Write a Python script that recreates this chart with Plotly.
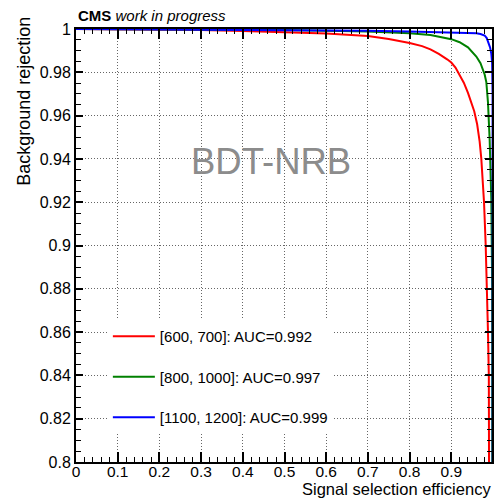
import plotly.graph_objects as go

# ROC curves: signal selection efficiency vs background rejection
sig_eff_600_700 = [0.0, 0.1, 0.2, 0.3, 0.4, 0.5, 0.6, 0.7, 0.75, 0.8, 0.83, 0.85, 0.87,
                   0.89, 0.90, 0.91, 0.92, 0.93, 0.94, 0.95, 0.955, 0.962, 0.968, 0.972,
                   0.9755, 0.9785, 0.9825, 0.9857, 0.988, 0.990, 0.992, 0.9936, 0.996,
                   0.998, 1.0]
bkg_rej_600_700 = [1.0, 0.99993, 0.99975, 0.9995, 0.9991, 0.9986, 0.9979, 0.9968, 0.9954,
                   0.9935, 0.9921, 0.9906, 0.9885, 0.9860, 0.9845, 0.9822, 0.9790, 0.9752,
                   0.9705, 0.9650, 0.962, 0.956, 0.948, 0.940, 0.930, 0.920, 0.90, 0.88,
                   0.86, 0.84, 0.82, 0.80, 0.75, 0.65, 0.0]

sig_eff_800_1000 = [0.0, 0.2, 0.4, 0.5, 0.6, 0.7, 0.8, 0.85, 0.9, 0.92, 0.94, 0.95, 0.96,
                    0.97, 0.975, 0.98, 0.984, 0.988, 0.992, 0.994, 0.996, 0.998, 0.9995,
                    1.0]
bkg_rej_800_1000 = [1.0, 0.99985, 0.9997, 0.9995, 0.9992, 0.9988, 0.998, 0.9972, 0.9953,
                    0.9939, 0.9915, 0.9896, 0.9873, 0.9842, 0.9818, 0.979, 0.9755, 0.966,
                    0.9487, 0.937, 0.921, 0.88, 0.80, 0.0]

sig_eff_1100_1200 = [0.0, 0.3, 0.5, 0.7, 0.8, 0.9, 0.94, 0.96, 0.97, 0.975, 0.98, 0.985,
                     0.99, 0.993, 0.996, 0.998, 0.999, 1.0]
bkg_rej_1100_1200 = [1.0, 0.9998, 0.9996, 0.9992, 0.9989, 0.9985, 0.9983, 0.998, 0.9977,
                     0.9974, 0.997, 0.9958, 0.9935, 0.9915, 0.9885, 0.984, 0.97, 0.0]

series_names = ["[600, 700]: AUC=0.992", "[800, 1000]: AUC=0.997", "[1100, 1200]: AUC=0.999"]
series_colors = ["#ff0000", "#008000", "#0000ff"]

x_tick_vals = [0.0, 0.1, 0.2, 0.3, 0.4, 0.5, 0.6, 0.7, 0.8, 0.9]
x_tick_text = ["0", "0.1", "0.2", "0.3", "0.4", "0.5", "0.6", "0.7", "0.8", "0.9"]
y_tick_vals = [0.8, 0.82, 0.84, 0.86, 0.88, 0.9, 0.92, 0.94, 0.96, 0.98, 1.0]
y_tick_text = ["0.8", "0.82", "0.84", "0.86", "0.88", "0.9", "0.92", "0.94", "0.96", "0.98", "1"]

FONT = "Liberation Sans, Arial, Helvetica, sans-serif"

fig = go.Figure()
curves = [
    (sig_eff_600_700, bkg_rej_600_700),
    (sig_eff_800_1000, bkg_rej_800_1000),
    (sig_eff_1100_1200, bkg_rej_1100_1200),
]
for i, ((xs, ys), name, color) in enumerate(zip(curves, series_names, series_colors)):
    fig.add_trace(go.Scatter(
        x=xs, y=ys, mode="lines", name=name, legendgroup=f"g{i}",
        line=dict(color=color, width=2),
    ))

axis_common = dict(
    showline=True, linecolor="black", linewidth=2, mirror="ticks",
    ticks="inside", tickcolor="black", tickwidth=1.5,
    showgrid=True, gridcolor="#666666", gridwidth=1, griddash="1px,2px",
    zeroline=False,
)

fig.update_xaxes(
    range=[0, 418 / 419], tickvals=x_tick_vals, ticktext=x_tick_text, ticklen=10,
    ticklabelstandoff=-6, tickfont=dict(family=FONT, size=15.5, color="black"),
    minor=dict(ticks="inside", dtick=0.02, tick0=0, ticklen=5, tickcolor="black",
               tickwidth=1.2, showgrid=False),
    **axis_common,
)
fig.update_yaxes(
    range=[0.8, 1.0], tickvals=y_tick_vals, ticktext=y_tick_text, ticklen=7,
    tickfont=dict(family=FONT, size=16, color="black"),
    minor=dict(ticks="inside", dtick=0.005, tick0=0.8, ticklen=5, tickcolor="black",
               tickwidth=1.2, showgrid=False),
    **axis_common,
)

fig.update_layout(
    width=494, height=499,
    margin=dict(l=76, r=0, t=29, b=37, pad=0),
    paper_bgcolor="white", plot_bgcolor="white",
    font=dict(family=FONT, color="black"),
    showlegend=True,
    legend=dict(
        x=0.0766, y=0.328, xanchor="left", yanchor="top",
        bgcolor="white", borderwidth=0, tracegroupgap=18,
        itemwidth=42, font=dict(family=FONT, size=15, color="black"),
    ),
    annotations=[
        dict(text="BDT-NRB", xref="paper", yref="paper", x=0.468, y=0.693,
             xanchor="center", yanchor="middle", showarrow=False,
             font=dict(family=FONT, size=36.5, color="#8c8c8c")),
        dict(text="<b>CMS</b> <i>work in progress</i>", xref="paper", yref="paper",
             x=0.0, y=1.008, xanchor="left", yanchor="bottom", showarrow=False,
             font=dict(family=FONT, size=15, color="black")),
        dict(text="Signal selection efficiency", xref="paper", yref="paper",
             x=1.0, y=-0.0855, xanchor="right", yanchor="bottom", showarrow=False,
             borderpad=0, font=dict(family=FONT, size=16.5, color="black")),
        dict(text="Background rejection", xref="paper", yref="paper",
             x=-0.1268, y=1.0323, xanchor="center", yanchor="top", showarrow=False,
             textangle=-90, font=dict(family=FONT, size=18, color="black")),
    ],
)

fig.write_html("out.html")
